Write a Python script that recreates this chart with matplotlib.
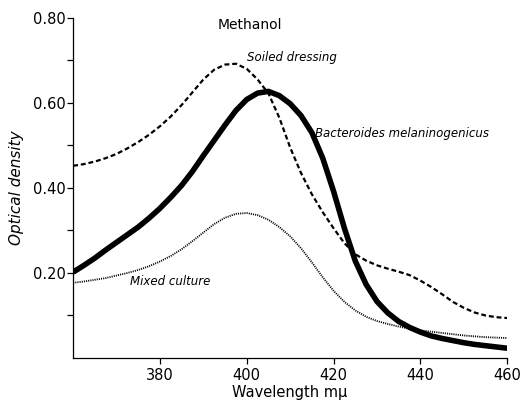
import numpy as np
import matplotlib
matplotlib.use("Agg")
import matplotlib.pyplot as plt

# --- data (wavelength in m-mu, optical density)
wavelength = [360, 362.5, 365, 367.5, 370, 372.5, 375, 377.5, 380, 382.5,
              385, 387.5, 390, 392.5, 395, 397.5, 400, 402.5, 405, 407.5,
              410, 412.5, 415, 417.5, 420, 422.5, 425, 427.5, 430, 432.5,
              435, 437.5, 440, 442.5, 445, 447.5, 450, 452.5, 455, 457.5, 460]

bacteroides = [0.202, 0.218, 0.235, 0.254, 0.272, 0.290, 0.308, 0.329, 0.352, 0.378,
               0.406, 0.439, 0.476, 0.512, 0.548, 0.582, 0.608, 0.623, 0.627, 0.617,
               0.598, 0.570, 0.530, 0.470, 0.392, 0.305, 0.228, 0.173, 0.133, 0.106,
               0.086, 0.072, 0.061, 0.052, 0.046, 0.041, 0.036, 0.032, 0.029, 0.026, 0.023]

soiled = [0.452, 0.456, 0.462, 0.470, 0.480, 0.493, 0.508, 0.525, 0.545, 0.568,
          0.595, 0.625, 0.655, 0.678, 0.690, 0.692, 0.680, 0.655, 0.622, 0.565,
          0.495, 0.435, 0.385, 0.343, 0.305, 0.270, 0.244, 0.229, 0.218, 0.210,
          0.203, 0.195, 0.182, 0.167, 0.150, 0.132, 0.118, 0.107, 0.100, 0.096, 0.094]

mixed = [0.177, 0.180, 0.184, 0.188, 0.194, 0.200, 0.207, 0.216, 0.227, 0.240,
         0.256, 0.275, 0.295, 0.315, 0.330, 0.339, 0.341, 0.336, 0.325, 0.308,
         0.286, 0.258, 0.225, 0.190, 0.158, 0.132, 0.112, 0.097, 0.087, 0.080,
         0.074, 0.069, 0.065, 0.062, 0.059, 0.056, 0.053, 0.051, 0.049, 0.048, 0.047]

x_ticks = [380, 400, 420, 440, 460]
y_major = [0.20, 0.40, 0.60, 0.80]
y_minor = [0.10, 0.30, 0.50, 0.70]

# --- figure
fig = plt.figure(figsize=(5.3, 4.05), dpi=100)
ax = fig.add_axes([0.138, 0.116, 0.819, 0.84])

ax.plot(wavelength, bacteroides, color="black", lw=4.0, solid_capstyle="butt")
ax.plot(wavelength, soiled, color="black", lw=1.6, linestyle=(0, (2.2, 1.3)))
ax.plot(wavelength, mixed, color="black", lw=1.3, linestyle=(0, (0.6, 0.6)))

ax.set_xlim(360, 460)
ax.set_ylim(0, 0.80)
ax.set_xticks(x_ticks)
ax.set_yticks(y_major)
ax.set_yticks(y_minor, minor=True)
ax.set_yticklabels([f"{v:.2f}" for v in y_major])

for s in ("top", "right"):
    ax.spines[s].set_visible(False)
for s in ("left", "bottom"):
    ax.spines[s].set_linewidth(0.9)
ax.tick_params(axis="both", which="major", direction="out", length=4, width=0.9, labelsize=10.5)
ax.tick_params(axis="y", which="major", pad=1.5)
ax.tick_params(axis="y", which="minor", direction="out", length=4, width=0.9)

ax.set_xlabel("Wavelength m\u03bc", fontsize=10.5, labelpad=1)
ax.set_ylabel("Optical density", fontsize=11, style="italic", labelpad=6)

# --- annotations
ax.text(393.4, 0.784, "Methanol", fontsize=10, va="center", ha="left")
ax.text(400.1, 0.706, "Soiled dressing", fontsize=8.5, style="italic", va="center", ha="left")
ax.text(415.8, 0.529, "Bacteroides melaninogenicus", fontsize=8.5, style="italic", va="center", ha="left")
ax.text(373.1, 0.181, "Mixed culture", fontsize=8.5, style="italic", va="center", ha="left")

fig.savefig("out.png", dpi=100)
